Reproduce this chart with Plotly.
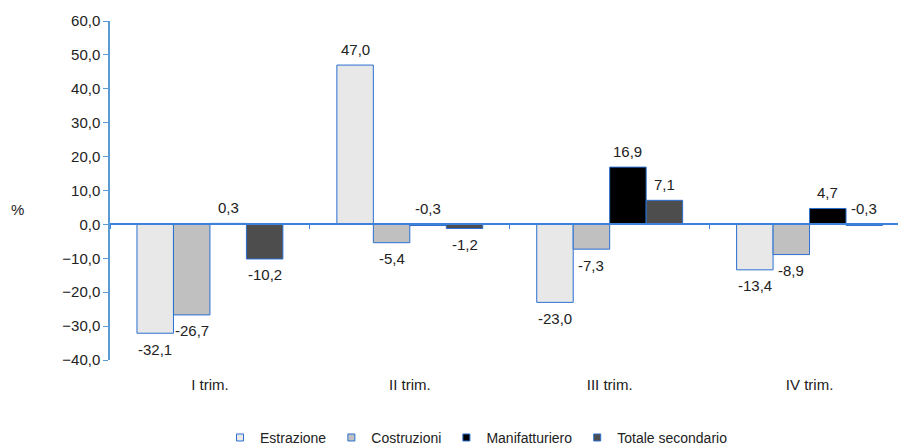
import plotly.graph_objects as go

categories = ["I trim.", "II trim.", "III trim.", "IV trim."]
series_names = ["Estrazione", "Costruzioni", "Manifatturiero", "Totale secondario"]
estrazione = [-32.1, 47.0, -23.0, -13.4]
costruzioni = [-26.7, -5.4, -7.3, -8.9]
manifatturiero = [0.3, -0.3, 16.9, 4.7]
totale = [-10.2, -1.2, 7.1, -0.3]
y_ticks = [-40, -30, -20, -10, 0, 10, 20, 30, 40, 50, 60]

series = [estrazione, costruzioni, manifatturiero, totale]
colors = ["#E8E8E8", "#C0C0C0", "#000000", "#4D4D4D"]
BORDER = "#2A6FD0"
AXIS_BLUE = "#3C82D8"
FONT = "Arial, Liberation Sans, sans-serif"
TXT = "#222222"
FS = 15
FS_LEG = 14
BARGAP = 0.27
YMIN, YMAX = y_ticks[0], y_ticks[-1]


def fmt(v):
    return f"{v:.1f}".replace(".", ",")


fig = go.Figure()
for name, vals, col in zip(series_names, series, colors):
    fig.add_trace(go.Bar(
        x=categories, y=vals, name=name,
        marker=dict(color=col, line=dict(color=BORDER, width=1)),
        showlegend=False, hoverinfo="skip",
    ))
for name, col in zip(series_names, colors):
    fig.add_trace(go.Scatter(
        x=[None], y=[None], mode="markers", name=name, xaxis="x2",
        marker=dict(symbol="square", size=7, color=col, line=dict(color=BORDER, width=1)),
        hoverinfo="skip",
    ))

n = len(series)
w = (1 - BARGAP) / n
for j, vals in enumerate(series):
    for i, v in enumerate(vals):
        xc = i + (j - (n - 1) / 2) * w
        above = v > -1
        fig.add_annotation(
            x=xc, y=(max(v, 0) if above else v), xref="x", yref="y",
            text=fmt(v), showarrow=False, yanchor="middle",
            yshift=(16 if above else -16),
            font=dict(family=FONT, size=FS, color=TXT),
        )

fig.add_annotation(x=-0.128, y=0.445, xref="paper", yref="paper", text="%",
                   showarrow=False, font=dict(family=FONT, size=FS, color=TXT))

fig.update_layout(
    width=898, height=445,
    margin=dict(l=110, r=0, t=21, b=85),
    paper_bgcolor="white", plot_bgcolor="white",
    separators=",.",
    barmode="group", bargap=BARGAP, bargroupgap=0,
    font=dict(family=FONT, size=FS, color=TXT),
    xaxis=dict(
        type="category", range=[-0.5, 3.4425], showline=False, showgrid=False,
        ticks="outside", ticklen=11, tickcolor="rgba(0,0,0,0)",
        tickfont=dict(family=FONT, size=FS, color=TXT), zeroline=False,
    ),
    xaxis2=dict(
        type="category", overlaying="x", matches="x", anchor="free",
        position=(0 - YMIN) / (YMAX - YMIN), side="bottom",
        showline=True, linecolor=AXIS_BLUE, linewidth=1.5,
        ticks="outside", tickson="boundaries", ticklen=4, tickcolor=AXIS_BLUE,
        showticklabels=False, showgrid=False, zeroline=False,
    ),
    yaxis=dict(
        range=[YMIN, YMAX], tickvals=y_ticks, tickformat=".1f",
        showline=True, linecolor="#5B9BD5", linewidth=1.5,
        ticks="outside", ticklen=5, tickcolor="#5B9BD5",
        showgrid=False, zeroline=False,
        tickfont=dict(family=FONT, size=FS, color=TXT),
    ),
    legend=dict(
        orientation="h", xref="container", yref="container",
        x=0.245, xanchor="left", y=0.016, yanchor="middle",
        font=dict(family=FONT, size=FS_LEG, color=TXT),
        bgcolor="rgba(0,0,0,0)",
    ),
)

fig.write_html("out.html", config={"displayModeBar": False},
               post_script="document.body.style.margin='0';document.body.style.overflow='hidden';")
